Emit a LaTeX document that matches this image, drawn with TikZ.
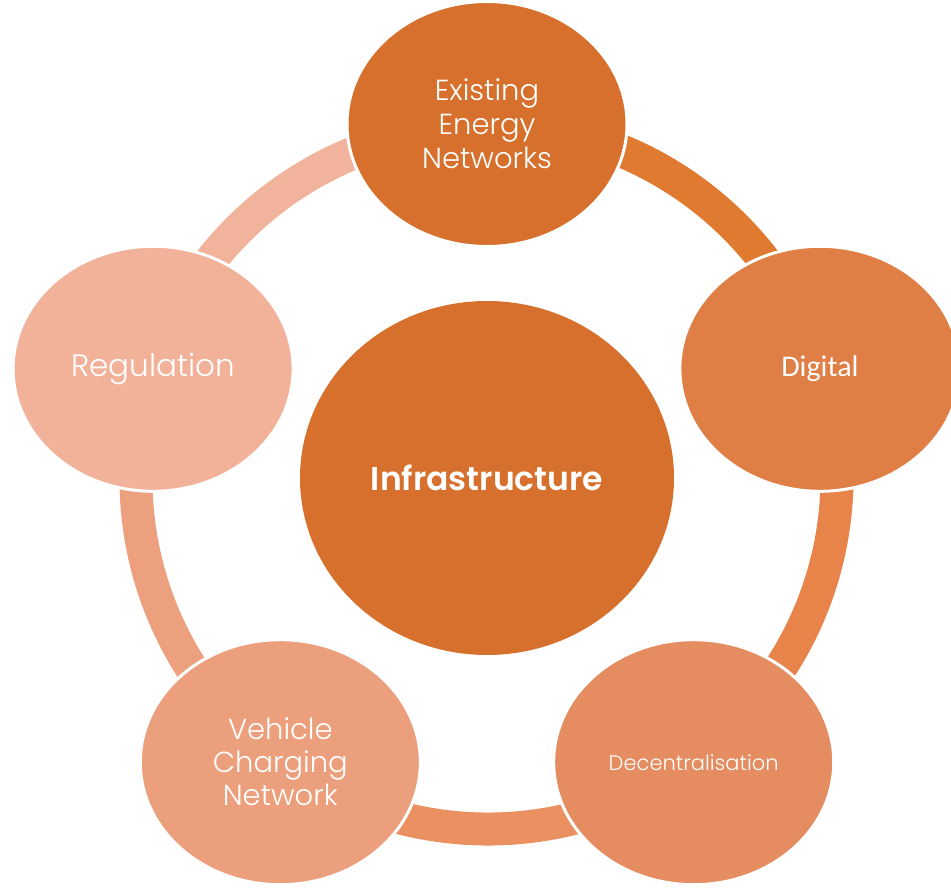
\documentclass[tikz,border=0pt]{standalone}
\usepackage{fontspec}
\setmainfont{Poppins}[UprightFont=* Light,BoldFont=* SemiBold]
\newfontfamily\calib{Carlito}
\usetikzlibrary{shapes.geometric}
\definecolor{or1}{HTML}{D6702C}
\definecolor{or2}{HTML}{DF7E45}
\definecolor{or3}{HTML}{E58C60}
\definecolor{or4}{HTML}{EC9F7C}
\definecolor{or5}{HTML}{F2B29A}
\definecolor{bd1}{HTML}{E07A30}
\definecolor{bd2}{HTML}{E8844A}
\definecolor{bd3}{HTML}{EA9061}
\definecolor{bd4}{HTML}{EDA07D}
\definecolor{bd5}{HTML}{F2B39C}
\begin{document}
\begin{tikzpicture}[x=1pt,y=1pt,
	sat/.style={ellipse,draw=white,line width=3pt,inner sep=0pt,minimum width=280pt,minimum height=245pt,
		text=white,align=center,font=\fontsize{29}{34}\selectfont},
	hub/.style={ellipse,inner sep=0pt,minimum width=374pt,minimum height=354pt,fill=or1,
		text=white,font=\fontsize{33}{38}\selectfont\bfseries},
	band/.style={line width=33pt}]
\useasboundingbox (0,0) rectangle (951,887);
% ring pieces first, nodes sit on top
\coordinate (c) at (487,409);
\coordinate (p1) at (487,763);
\coordinate (p2) at (819.9,518.2);
\coordinate (p3) at (693.7,124.8);
\coordinate (p4) at (280.3,124.8);
\coordinate (p5) at (153.1,518.2);
\draw[band,bd1] (p1) arc[start angle=90,end angle=18,radius=350];
\draw[band,bd2] (p2) arc[start angle=18,end angle=-54,radius=350];
\draw[band,bd3] (p3) arc[start angle=-54,end angle=-126,radius=350];
\draw[band,bd4] (p4) arc[start angle=-126,end angle=-198,radius=350];
\draw[band,bd5] (p5) arc[start angle=162,end angle=90,radius=350];
\node[hub] (infra) at (c) {Infrastructure};
\node[sat,fill=or1] (exist) at (p1) {Existing\\Energy\\Networks};
\node[sat,fill=or2,font=\calib\fontsize{30}{36}\selectfont] (digital) at (p2) {Digital};
\node[sat,fill=or3,font=\fontsize{21}{25}\selectfont] (decent) at (p3) {Decentralisation};
\node[sat,fill=or4,font=\fontsize{29}{33}\selectfont] (vehicle) at (p4) {Vehicle\\Charging\\Network};
\node[sat,fill=or5,font=\fontsize{31}{36}\selectfont] (regul) at (p5) {Regulation};
\end{tikzpicture}
\end{document}
